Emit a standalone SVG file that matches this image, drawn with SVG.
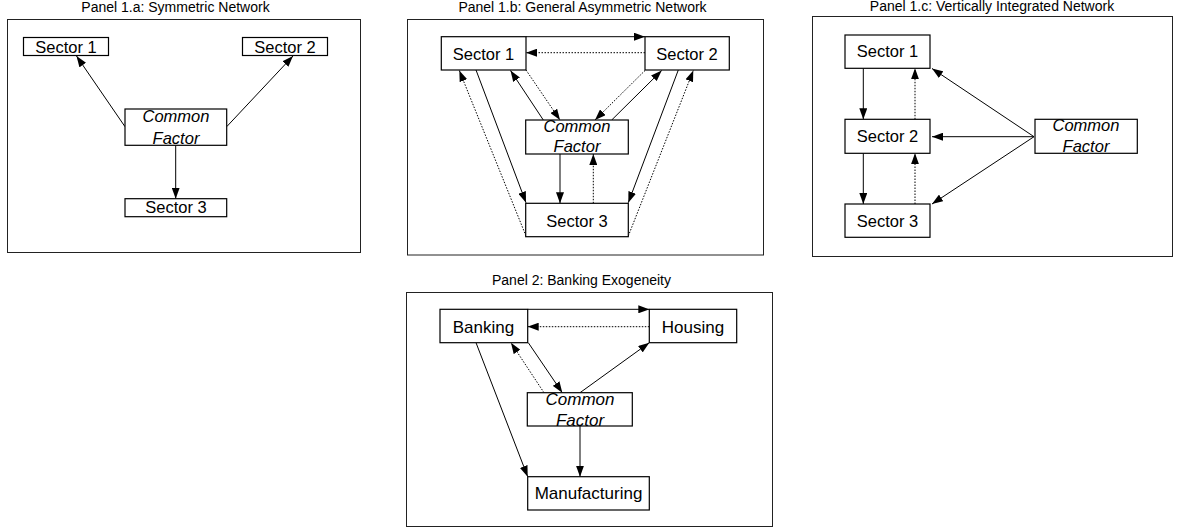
<svg xmlns="http://www.w3.org/2000/svg" width="1177" height="531" viewBox="0 0 1177 531">
<style>
.frame{fill:none;stroke:#222;stroke-width:1}
.box{fill:#fff;stroke:#000;stroke-width:1.2}
.title{font-family:"Liberation Sans",Arial,sans-serif;font-size:14px;fill:#000;text-anchor:middle}
.lbl{font-family:"Liberation Sans",Arial,sans-serif;font-size:16.5px;fill:#000;text-anchor:middle}
.lbl2{font-family:"Liberation Sans",Arial,sans-serif;font-size:17px;fill:#000;text-anchor:middle}
.it{font-style:italic}
.s{fill:none;stroke:#000;stroke-width:1;marker-end:url(#ah)}
.d{fill:none;stroke:#000;stroke-width:1;stroke-dasharray:1.5 1.5;marker-end:url(#ah)}
</style>
<defs>
<marker id="ah" markerUnits="userSpaceOnUse" markerWidth="11" markerHeight="8" refX="11" refY="4" orient="auto">
<path d="M0,0 L11,4 L0,8 z" fill="#000"/>
</marker>
</defs>
<rect width="1177" height="531" fill="#fff"/>

<!-- Panel frames and titles -->
<g id="panel1a">
<rect class="frame" x="7.5" y="19.5" width="353" height="233"/>
<text class="title" x="175.5" y="12">Panel 1.a: Symmetric Network</text>
</g>
<g id="panel1b">
<rect class="frame" x="407.5" y="19.5" width="356" height="235.5"/>
<text class="title" x="582.5" y="11.5">Panel 1.b: General Asymmetric Network</text>
</g>
<g id="panel1c">
<rect class="frame" x="812.5" y="16.5" width="360" height="240"/>
<text class="title" x="992" y="11">Panel 1.c: Vertically Integrated Network</text>
</g>
<g id="panel2">
<rect class="frame" x="406.5" y="292.5" width="366" height="234"/>
<text class="title" x="581.5" y="285">Panel 2:  Banking Exogeneity</text>
</g>

<!-- Connectors -->
<g id="connectors">
<!-- 1a -->
<line class="s" x1="125" y1="126.7" x2="76.5" y2="56"/>
<line class="s" x1="226.7" y1="126.7" x2="293" y2="56"/>
<line class="s" x1="175.7" y1="145.3" x2="175.7" y2="198.7"/>
<!-- 1b -->
<line class="s" x1="526" y1="36.7" x2="645" y2="36.7"/>
<line class="d" x1="645" y1="52.7" x2="526" y2="52.7"/>
<line class="s" x1="543.3" y1="120" x2="510.5" y2="70.5"/>
<line class="d" x1="526" y1="70" x2="560" y2="120"/>
<line class="d" x1="645" y1="70.5" x2="595" y2="120"/>
<line class="s" x1="611.7" y1="120" x2="661.7" y2="70.5"/>
<line class="s" x1="476" y1="70" x2="526" y2="202.7"/>
<line class="d" x1="526" y1="236" x2="459.3" y2="70.5"/>
<line class="s" x1="678.3" y1="70" x2="628.3" y2="202.7"/>
<line class="d" x1="628.3" y1="236" x2="693.3" y2="70.5"/>
<line class="s" x1="560" y1="154" x2="560" y2="203.3"/>
<line class="d" x1="593.3" y1="203.3" x2="593.3" y2="154"/>
<!-- 1c -->
<line class="s" x1="863.3" y1="68.3" x2="863.3" y2="119.3"/>
<line class="d" x1="915" y1="119.3" x2="915" y2="68.3"/>
<line class="s" x1="863.3" y1="153.3" x2="863.3" y2="204"/>
<line class="d" x1="915" y1="204" x2="915" y2="153.3"/>
<line class="s" x1="1034" y1="136.7" x2="932" y2="68.5"/>
<line class="s" x1="1034" y1="136.7" x2="932" y2="136.7"/>
<line class="s" x1="1034" y1="136.7" x2="932" y2="204"/>
<!-- 2 -->
<line class="s" x1="527.7" y1="309.3" x2="649.3" y2="309.3"/>
<line class="d" x1="649.3" y1="326.7" x2="527.7" y2="326.7"/>
<line class="d" x1="544" y1="392.7" x2="511" y2="342.7"/>
<line class="s" x1="528.3" y1="342.7" x2="562.3" y2="392.7"/>
<line class="s" x1="580" y1="392.7" x2="649.3" y2="342.7"/>
<line class="s" x1="476" y1="342.7" x2="527.7" y2="476.7"/>
<line class="s" x1="580" y1="426" x2="580" y2="476.7"/>
</g>

<!-- Panel 1.a nodes -->
<g id="a-s1"><rect class="box" x="23.5" y="37.5" width="85" height="18"/><text class="lbl" x="66" y="52.5">Sector 1</text></g>
<g id="a-s2"><rect class="box" x="242.5" y="37.5" width="85" height="18"/><text class="lbl" x="285" y="52.5">Sector 2</text></g>
<g id="a-cf"><rect class="box" x="125" y="109" width="101.7" height="36.3"/><text class="lbl it" x="176" y="122.3">Common</text><text class="lbl it" x="176" y="144">Factor</text></g>
<g id="a-s3"><rect class="box" x="125" y="198.7" width="101.7" height="18"/><text class="lbl" x="176" y="213.3">Sector 3</text></g>

<!-- Panel 1.b nodes -->
<g id="b-s1"><rect class="box" x="441.3" y="36.7" width="84.7" height="33.3"/><text class="lbl" x="483.5" y="59.5">Sector 1</text></g>
<g id="b-s2"><rect class="box" x="645" y="36.7" width="84.3" height="33.3"/><text class="lbl" x="687" y="59.5">Sector 2</text></g>
<g id="b-cf"><rect class="box" x="525.7" y="120" width="102.6" height="34"/><text class="lbl it" x="577" y="131.7">Common</text><text class="lbl it" x="577" y="151.7">Factor</text></g>
<g id="b-s3"><rect class="box" x="525.7" y="203.3" width="102.6" height="33.4"/><text class="lbl" x="577" y="226.5">Sector 3</text></g>

<!-- Panel 1.c nodes -->
<g id="c-s1"><rect class="box" x="845" y="35" width="85" height="33.3"/><text class="lbl" x="887.5" y="57">Sector 1</text></g>
<g id="c-s2"><rect class="box" x="845" y="119.3" width="85" height="34"/><text class="lbl" x="887.5" y="141.7">Sector 2</text></g>
<g id="c-s3"><rect class="box" x="845" y="204" width="85" height="33.3"/><text class="lbl" x="887.5" y="226.5">Sector 3</text></g>
<g id="c-cf"><rect class="box" x="1035" y="119.3" width="102.3" height="34"/><text class="lbl it" x="1086" y="130.7">Common</text><text class="lbl it" x="1086" y="151.7">Factor</text></g>

<!-- Panel 2 nodes -->
<g id="p2-banking"><rect class="box" x="440" y="309.3" width="87.7" height="33.4"/><text class="lbl2" x="483.5" y="332.7">Banking</text></g>
<g id="p2-housing"><rect class="box" x="649.3" y="309.3" width="87.4" height="33.4"/><text class="lbl2" x="693" y="332.7">Housing</text></g>
<g id="p2-cf"><rect class="box" x="527.3" y="392.7" width="105" height="33.3"/><text class="lbl2 it" x="580" y="405">Common</text><text class="lbl2 it" x="580" y="425.7">Factor</text></g>
<g id="p2-mfg"><rect class="box" x="527.7" y="476.7" width="121.6" height="33.3"/><text class="lbl2" x="588.5" y="499.3">Manufacturing</text></g>
</svg>
